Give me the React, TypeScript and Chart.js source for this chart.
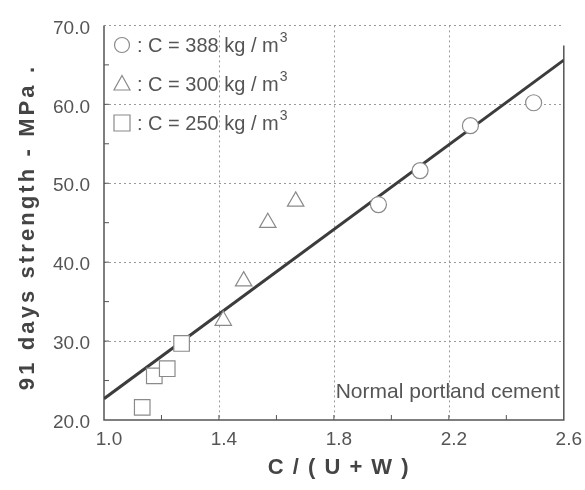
import React, { useEffect, useRef } from "react";
import { Chart, registerables } from "chart.js";

Chart.register(...registerables);

// ---- data ----
const circleX = [1.955, 2.1, 2.275, 2.495];
const circleY = [47.3, 51.6, 57.3, 60.2];
const triangleX = [1.415, 1.486, 1.57, 1.667];
const triangleY = [32.6, 37.6, 45.0, 47.7];
const squareX = [1.133, 1.175, 1.22, 1.27];
const squareY = [21.6, 25.6, 26.5, 29.7];
const fitX = [1.0, 2.6];
const fitY = [22.7, 65.6];

const xTicks = [1.0, 1.4, 1.8, 2.2, 2.6];
const yTicks = [20, 30, 40, 50, 60, 70];
const legendLabels = ["388", "300", "250"];
const xTitle = "C / ( U + W )";
const yTitle = "91 days strength - MPa .";
const noteText = "Normal portland cement";

const FONT = "'Liberation Sans', Arial, sans-serif";
const MARK = "#8a8a8a";

const pts = (xs: number[], ys: number[]) => xs.map((x, i) => ({ x, y: ys[i] }));

const decorPlugin = {
  id: "decor",
  beforeDatasetsDraw(chart: any) {
    const { ctx, chartArea: a, scales } = chart;
    const xs = scales.x, ys = scales.y;
    ctx.save();
    // dotted grid
    ctx.strokeStyle = "#9a9a9a";
    ctx.lineWidth = 1;
    ctx.setLineDash([2, 3]);
    xTicks.slice(1, -1).forEach((v) => {
      const px = Math.round(xs.getPixelForValue(v)) + 0.5;
      ctx.beginPath(); ctx.moveTo(px, a.top); ctx.lineTo(px, a.bottom); ctx.stroke();
    });
    yTicks.slice(1).forEach((v) => {
      const py = Math.round(ys.getPixelForValue(v)) + 0.5;
      ctx.beginPath(); ctx.moveTo(a.left, py); ctx.lineTo(a.right, py); ctx.stroke();
    });
    ctx.setLineDash([]);
    // axes
    ctx.strokeStyle = "#555";
    ctx.lineWidth = 1.5;
    ctx.beginPath();
    ctx.moveTo(a.left, a.top);
    ctx.lineTo(a.left, a.bottom);
    ctx.lineTo(a.right, a.bottom);
    ctx.lineTo(a.right, a.top + 20);
    ctx.stroke();
    // inward minor ticks
    ctx.lineWidth = 1;
    for (let v = 25; v < 70; v += 5) {
      const py = ys.getPixelForValue(v);
      ctx.beginPath(); ctx.moveTo(a.left, py); ctx.lineTo(a.left + 5, py); ctx.stroke();
    }
    for (let v = 1.2; v < 2.6; v += 0.2) {
      const px = xs.getPixelForValue(v);
      ctx.beginPath(); ctx.moveTo(px, a.bottom); ctx.lineTo(px, a.bottom - 5); ctx.stroke();
    }
    ctx.restore();
  },
  afterDatasetsDraw(chart: any) {
    const { ctx, chartArea: a } = chart;
    ctx.save();
    // legend
    const rows = [45, 84, 123];
    const symX = a.left + 18;
    ctx.strokeStyle = MARK;
    ctx.fillStyle = "#fff";
    ctx.lineWidth = 1.2;
    ctx.beginPath(); ctx.arc(symX, rows[0], 7.5, 0, Math.PI * 2); ctx.fill(); ctx.stroke();
    ctx.beginPath();
    ctx.moveTo(symX, rows[1] - 8.5);
    ctx.lineTo(symX + 8, rows[1] + 6);
    ctx.lineTo(symX - 8, rows[1] + 6);
    ctx.closePath(); ctx.fill(); ctx.stroke();
    ctx.beginPath(); ctx.rect(symX - 8, rows[2] - 8, 16, 16); ctx.fill(); ctx.stroke();

    ctx.fillStyle = "#555";
    ctx.textBaseline = "middle";
    ctx.textAlign = "left";
    legendLabels.forEach((lab, i) => {
      ctx.font = `20px ${FONT}`;
      const t = `: C = ${lab} kg / m`;
      const tx = symX + 15;
      ctx.fillText(t, tx, rows[i] + 1);
      const w = ctx.measureText(t).width;
      ctx.font = `14px ${FONT}`;
      ctx.fillText("3", tx + w + 1, rows[i] - 7);
    });
    // note
    ctx.font = `21px ${FONT}`;
    ctx.textAlign = "right";
    ctx.fillText(noteText, a.right - 4, a.bottom - 28);

    // axis titles
    ctx.fillStyle = "#444";
    ctx.font = `bold 22px ${FONT}`;
    ctx.textAlign = "center";
    ctx.textBaseline = "middle";
    (ctx as any).letterSpacing = "1.5px";
    ctx.fillText(xTitle, (a.left + a.right) / 2 + 5, 468);
    (ctx as any).letterSpacing = "3.1px";
    ctx.translate(28, 227);
    ctx.rotate(-Math.PI / 2);
    ctx.fillText(yTitle, 0, 0);
    (ctx as any).letterSpacing = "0px";
    ctx.restore();
  },
};

export default function App() {
  const ref = useRef<HTMLCanvasElement>(null);
  useEffect(() => {
    if (!ref.current) return;
    const markerBase = {
      type: "scatter" as const,
      borderColor: MARK,
      backgroundColor: "#fff",
      borderWidth: 1.2,
      showLine: false,
    };
    const chart = new Chart(ref.current, {
      type: "scatter",
      data: {
        datasets: [
          {
            type: "line",
            label: "fit",
            data: pts(fitX, fitY),
            borderColor: "#3c3c3c",
            borderWidth: 3,
            pointRadius: 0,
            fill: false,
            order: 2,
          } as any,
          { ...markerBase, label: "388", data: pts(circleX, circleY), pointStyle: "circle", pointRadius: 8, order: 1 },
          { ...markerBase, label: "300", data: pts(triangleX, triangleY), pointStyle: "triangle", pointRadius: 9.5, order: 1 },
          { ...markerBase, label: "250", data: pts(squareX, squareY), pointStyle: "rect", pointRadius: 11, order: 1 },
        ],
      },
      options: {
        responsive: false,
        animation: false,
        layout: { padding: { top: 18, right: 21, left: 0, bottom: 0 } },
        plugins: { legend: { display: false }, tooltip: { enabled: false } },
        scales: {
          x: {
            type: "linear",
            min: 1.0,
            max: 2.6,
            afterBuildTicks: (s: any) => { s.ticks = xTicks.map((v) => ({ value: v })); },
            afterFit: (s: any) => { s.height = 70; },
            grid: { display: false, drawTicks: false },
            border: { display: false },
            ticks: {
              padding: 8,
              labelOffset: 5,
              color: "#555",
              font: { family: FONT, size: 19 },
              callback: (v: any) => Number(v).toFixed(1),
            },
          },
          y: {
            type: "linear",
            min: 20,
            max: 70,
            afterBuildTicks: (s: any) => { s.ticks = yTicks.map((v) => ({ value: v })); },
            afterFit: (s: any) => { s.width = 104; },
            grid: { display: false, drawTicks: false },
            border: { display: false },
            ticks: {
              padding: 14,
              labelOffset: 3,
              color: "#555",
              font: { family: FONT, size: 19 },
              callback: (v: any) => Number(v).toFixed(1),
            },
          },
        },
      },
      plugins: [decorPlugin],
    });
    return () => chart.destroy();
  }, []);
  return (
    <div style={{ position: "fixed", left: 0, top: 0, width: 585, height: 490, background: "#fff" }}>
      <canvas ref={ref} width={585} height={490} />
    </div>
  );
}
